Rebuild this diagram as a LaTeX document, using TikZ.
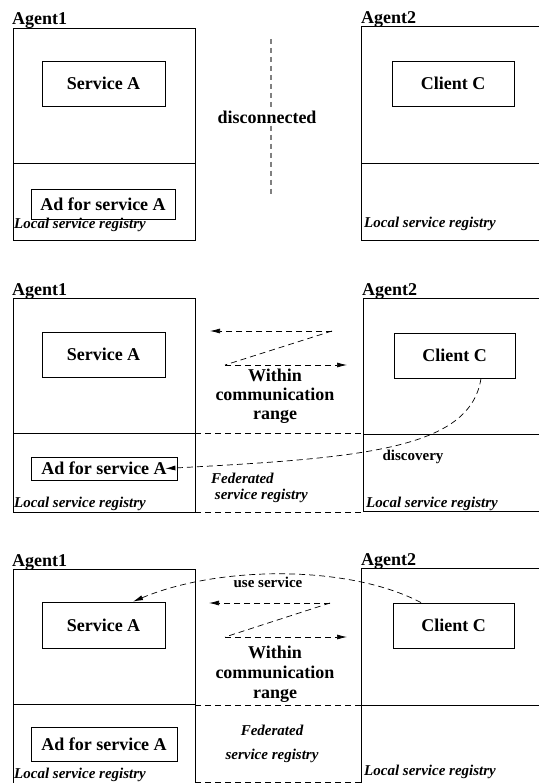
\documentclass[tikz,border=0pt]{standalone}
\usepackage{fontspec}
\setmainfont{Liberation Serif}
\usetikzlibrary{arrows.meta}
\begin{document}
\begin{tikzpicture}[x=1pt,y=-1pt,
  box/.style={draw, line width=0.8pt, inner sep=0pt},
  lbl/.style={font=\fontsize{18}{19}\selectfont\bfseries, inner sep=0pt},
  smalli/.style={font=\fontsize{15}{14}\selectfont\bfseries\itshape, inner sep=0pt},
  smallb/.style={font=\fontsize{15}{14}\selectfont\bfseries, inner sep=0pt},
  frame/.style={line width=0.8pt},
  dsh/.style={dash pattern=on 6pt off 4pt, line width=0.7pt},
  arr/.style={dsh, -{Latex[length=10pt,width=5pt]}},
]
\useasboundingbox (0,0) rectangle (538,783);

% ---------------- Panel 1 ----------------
\node[box, minimum width=182pt, minimum height=212pt] (a1p1) at (104,134) {};
\draw[frame] (13,163) -- (195,163);
\node[lbl, anchor=base west] (ag1p1) at (12,25) {Agent1};
\node[box, lbl, minimum width=123pt, minimum height=45pt] (sa1) at (103.5,83.5) {Service A};
\node[box, lbl, minimum width=144pt, minimum height=30pt] (ad1) at (103,204) {Ad for service A};
\node[smalli, anchor=base west] (lr1a) at (14,229) {Local service registry};

\draw[frame] (540,26) -- (361,26) -- (361,240) -- (540,240);
\draw[frame] (361,163) -- (540,163);
\node[lbl, anchor=base west] (ag2p1) at (361,24) {Agent2};
\node[box, lbl, minimum width=122pt, minimum height=45pt] (cc1) at (453,83.5) {Client C};
\node[smalli, anchor=base west] (lr1b) at (364,228) {Local service registry};

\coordinate (dtop) at (271,39);
\coordinate (dbot) at (271,195);
\node[lbl] (disc) at (267,117) {disconnected};
\draw[gray, line width=1.1pt, dash pattern=on 5pt off 4pt] (dtop) -- ([yshift=2pt]disc.north -| dtop);
\draw[gray, line width=1.1pt, dash pattern=on 5pt off 4pt] ([yshift=-2pt]disc.south -| dbot) -- (dbot);

% ---------------- Panel 2 ----------------
\node[box, minimum width=182pt, minimum height=214pt] (a1p2) at (104,405) {};
\draw[frame] (13,433) -- (195,433);
\node[lbl, anchor=base west] (ag1p2) at (12,295) {Agent1};
\node[box, lbl, minimum width=123pt, minimum height=45pt] (sa2) at (103.5,354.5) {Service A};
\node[box, lbl, minimum width=146pt, minimum height=23pt] (ad2) at (104,468.5) {Ad for service A};
\node[smalli, anchor=base west] (lr2a) at (14,507) {Local service registry};

\draw[frame] (540,298) -- (363,298) -- (363,511) -- (540,511);
\draw[frame] (363,434) -- (540,434);
\node[lbl, anchor=base west] (ag2p2) at (362,295) {Agent2};
\node[box, lbl, minimum width=121pt, minimum height=45pt] (cc2) at (454.5,355.5) {Client C};
\node[smalli, anchor=base west] (lr2b) at (366,507) {Local service registry};

\coordinate (z2a) at (332,331);
\coordinate (z2b) at (210,331);
\coordinate (z2c) at (225,365);
\coordinate (z2d) at (347,365);
\draw[arr] (z2a) -- (z2b);
\draw[dsh] (z2a) -- (z2c);
\draw[arr] (z2c) -- (z2d);
\node[lbl, align=center, font=\fontsize{18}{19}\selectfont\bfseries] (wcr2) at (275,396) {Within\\communication\\range};

\draw[dsh] (195,433) -- (363,433);
\draw[dsh] (195,512) -- (363,512);
\node[smalli, align=left, anchor=west, font=\fontsize{15}{16}\selectfont\bfseries\itshape] (fed2) at (211,488) {Federated\\\ service registry};

\draw[arr] ([xshift=26.5pt]cc2.south) .. controls (470,450) and (360,458) .. ([xshift=-12pt]ad2.east);
\node[smallb] (disc2) at (413,457) {discovery};

% ---------------- Panel 3 ----------------
\draw[frame] (13,790) -- (13,569) -- (195,569) -- (195,790);
\draw[frame] (13,704) -- (195,704);
\node[lbl, anchor=base west] (ag1p3) at (12,566) {Agent1};
\node[box, lbl, minimum width=123pt, minimum height=46pt] (sa3) at (103.5,625) {Service A};
\node[box, lbl, minimum width=146pt, minimum height=34pt] (ad3) at (104,744) {Ad for service A};
\node[smalli, anchor=base west] (lr3a) at (14,778) {Local service registry};

\draw[frame] (540,568) -- (361,568) -- (361,790);
\draw[frame] (361,705) -- (540,705);
\node[lbl, anchor=base west] (ag2p3) at (361,565) {Agent2};
\node[box, lbl, minimum width=121pt, minimum height=45pt] (cc3) at (453.5,625.5) {Client C};
\node[smalli, anchor=base west] (lr3b) at (364,775) {Local service registry};

\coordinate (z3a) at (330,603);
\coordinate (z3b) at (209,603);
\coordinate (z3c) at (225,637);
\coordinate (z3d) at (347,637);
\draw[arr] (z3a) -- (z3b);
\draw[dsh] (z3a) -- (z3c);
\draw[arr] (z3c) -- (z3d);
\node[lbl, align=center, font=\fontsize{18}{20}\selectfont\bfseries] (wcr3) at (275,674) {Within\\communication\\range};

\draw[dsh] (195,705) -- (361,705);
\draw[dsh] (195,782) -- (361,782);
\node[smalli, align=center, font=\fontsize{15}{24}\selectfont\bfseries\itshape] (fed3) at (272,744) {Federated\\service registry};

\draw[arr] ([xshift=-32.5pt]cc3.north) .. controls (350,565) and (220,565) .. ([xshift=29.5pt]sa3.north);
\node[smallb] (use3) at (268,582) {use service};
\end{tikzpicture}
\end{document}
